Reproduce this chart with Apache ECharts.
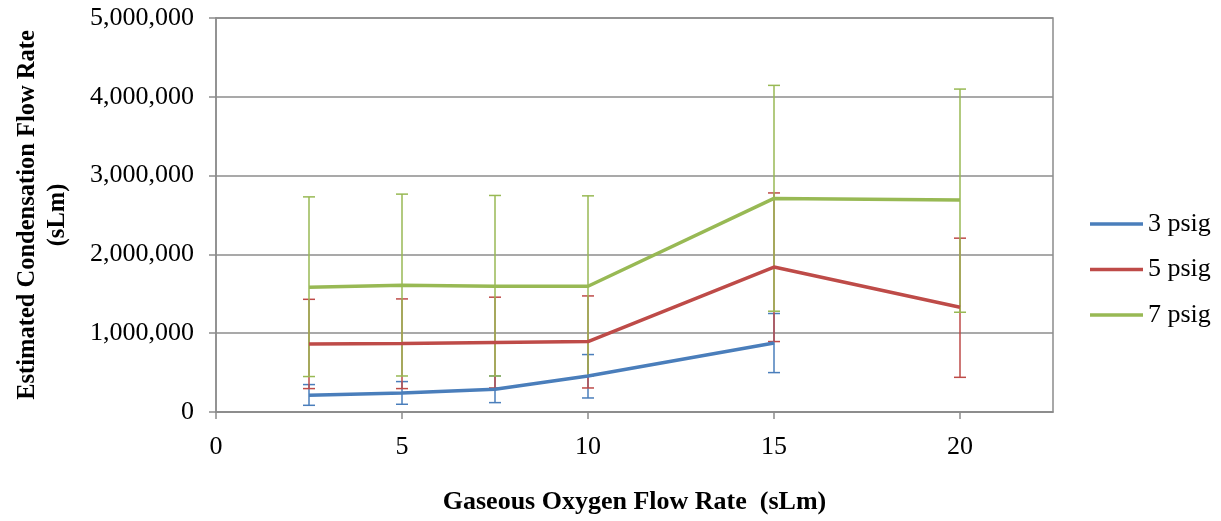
<!DOCTYPE html>
<html>
<head>
<meta charset="utf-8">
<script src="https://cdn.jsdelivr.net/npm/echarts@6/dist/echarts.min.js"></script>
<style>
	html, body { margin: 0; padding: 0; background: #fff; }
	#chart { width: 1221px; height: 521px; }
</style>
</head>
<body>
<div id="chart"></div>
<script>
// flow rate of gaseous oxygen (sLm)
var flowRates = [2.5, 5, 7.5, 10, 15, 20];
var seriesNames = ['3 psig', '5 psig', '7 psig'];

// estimated condensation flow rate, mean values
var psig3 = [212000, 241000, 288000, 457000, 876000, null];
var psig5 = [864000, 868000, 881000, 894000, 1840000, 1330000];
var psig7 = [1584000, 1609000, 1596000, 1596000, 2710000, 2690000];

// error bar ends
var psig3Low = [85000, 98000, 119000, 178000, 500000, null];
var psig3High = [348000, 386000, 457000, 729000, 1250000, null];
var psig5Low = [297000, 297000, 305000, 305000, 894000, 440000];
var psig5High = [1430000, 1435000, 1457000, 1473000, 2780000, 2206000];
var psig7Low = [450000, 457000, 457000, 457000, 1279000, 1266000];
var psig7High = [2730000, 2765000, 2748000, 2743000, 4145000, 4098000];

var xTicks = [0, 5, 10, 15, 20];

var colors = ['#4A7EBB', '#BE4B48', '#98B954'];
var font = '"Liberation Serif", "Times New Roman", serif';

function pairs(ys) {
	var out = [];
	for (var i = 0; i < flowRates.length; i++) {
		if (ys[i] != null) out.push([flowRates[i], ys[i]]);
	}
	return out;
}

function errData(lo, hi) {
	var out = [];
	for (var i = 0; i < flowRates.length; i++) {
		if (lo[i] != null) out.push([flowRates[i], lo[i], hi[i]]);
	}
	return out;
}

function errorSeries(lo, hi, color) {
	return {
		type: 'custom',
		data: errData(lo, hi),
		silent: true,
		z: 3,
		renderItem: function (params, api) {
			var x = api.value(0);
			var a = api.coord([x, api.value(1)]);
			var b = api.coord([x, api.value(2)]);
			var w = 6;
			var st = { stroke: color, lineWidth: 1.5 };
			return {
				type: 'group',
				children: [
					{ type: 'line', shape: { x1: a[0], y1: a[1], x2: b[0], y2: b[1] }, style: st },
					{ type: 'line', shape: { x1: a[0] - w, y1: a[1], x2: a[0] + w, y2: a[1] }, style: st },
					{ type: 'line', shape: { x1: b[0] - w, y1: b[1], x2: b[0] + w, y2: b[1] }, style: st }
				]
			};
		}
	};
}

function lineSeries(name, ys, color) {
	return {
		name: name,
		type: 'line',
		data: pairs(ys),
		showSymbol: false,
		symbol: 'none',
		z: 4,
		lineStyle: { color: color, width: 3.5 },
		itemStyle: { color: color }
	};
}

var chartObj = echarts.init(document.getElementById('chart'));

var option = {
	animation: false,
	color: colors,
	textStyle: { fontFamily: font },
	grid: {
		left: 216,
		right: 168,
		top: 18,
		bottom: 109,
		outerBoundsMode: 'none',
		containLabel: false,
		show: true,
		borderColor: '#8c8c8c',
		borderWidth: 1.5
	},
	legend: {
		orient: 'vertical',
		left: 1085,
		top: 206,
		itemWidth: 53,
		itemHeight: 3.5,
		itemGap: 19.5,
		icon: 'rect',
		data: seriesNames,
		textStyle: { fontFamily: font, fontSize: 26, color: '#000' }
	},
	xAxis: {
		type: 'value',
		min: 0,
		max: 22.5,
		interval: 5,
		name: 'Gaseous Oxygen Flow Rate  (sLm)',
		nameLocation: 'middle',
		nameGap: 77,
		nameTextStyle: { fontFamily: font, fontSize: 26, fontWeight: 'bold', color: '#000' },
		axisLine: { lineStyle: { color: '#8c8c8c', width: 1.5 } },
		axisTick: { show: true, length: 7, lineStyle: { color: '#8c8c8c', width: 1.5 } },
		axisLabel: {
			showMaxLabel: false,
			margin: 22,
			fontSize: 26,
			color: '#000',
			fontFamily: font,
			formatter: function (v) { return xTicks.indexOf(v) >= 0 ? String(v) : ''; }
		},
		splitLine: { show: false }
	},
	yAxis: {
		type: 'value',
		min: 0,
		max: 5000000,
		interval: 1000000,
		name: 'Estimated Condensation Flow Rate\n(sLm)',
		nameLocation: 'middle',
		nameGap: 143,
		nameTextStyle: { fontFamily: font, fontSize: 24.5, fontWeight: 'bold', color: '#000', lineHeight: 30 },
		axisLine: { show: true, lineStyle: { color: '#8c8c8c', width: 1.5 } },
		axisTick: { show: true, length: 7, lineStyle: { color: '#8c8c8c', width: 1.5 } },
		axisLabel: {
			margin: 22,
			fontSize: 26,
			color: '#000',
			fontFamily: font,
			formatter: function (v) { return v.toLocaleString('en-US'); }
		},
		splitLine: { show: true, lineStyle: { color: '#8c8c8c', width: 1.5 } }
	},
	series: [
		errorSeries(psig3Low, psig3High, colors[0]),
		lineSeries(seriesNames[0], psig3, colors[0]),
		errorSeries(psig5Low, psig5High, colors[1]),
		lineSeries(seriesNames[1], psig5, colors[1]),
		errorSeries(psig7Low, psig7High, colors[2]),
		lineSeries(seriesNames[2], psig7, colors[2])
	]
};
chartObj.setOption(option);
</script>
</body>
</html>
